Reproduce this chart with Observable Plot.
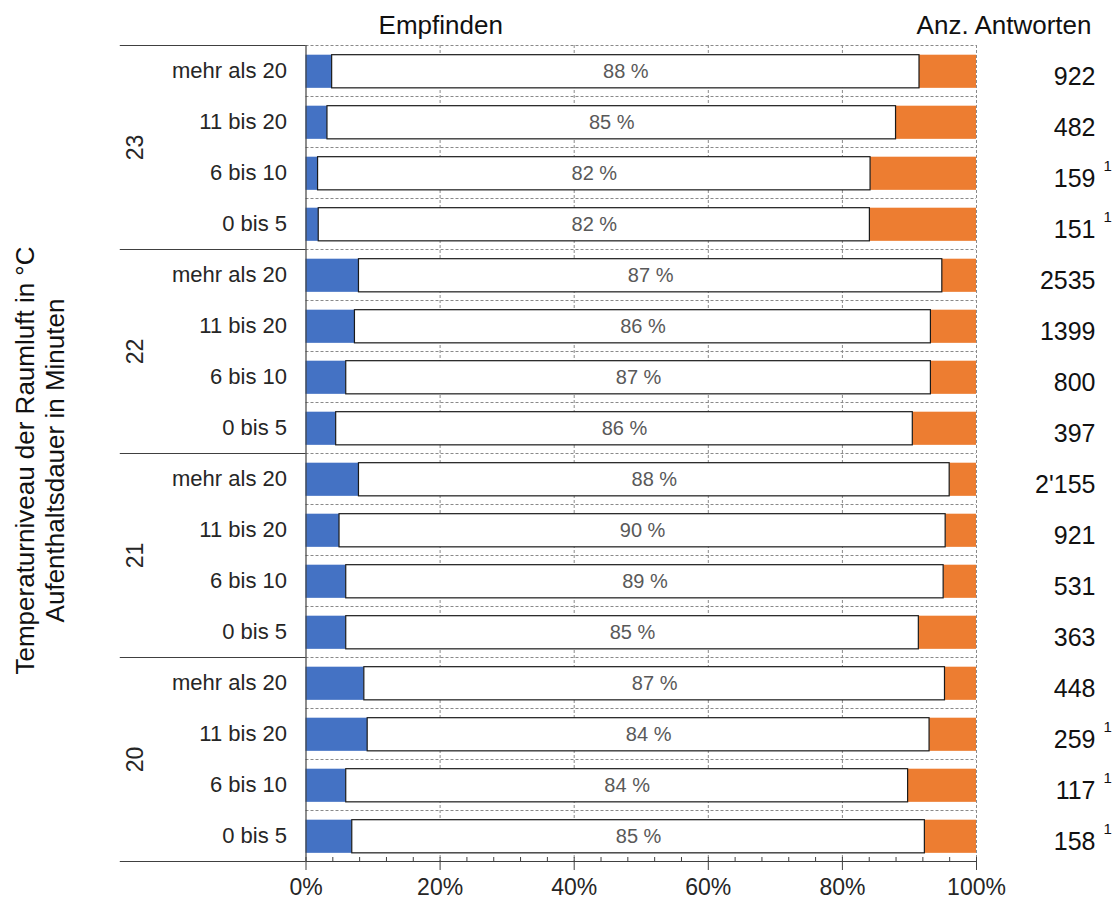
<!DOCTYPE html>
<html>
<head>
<meta charset="utf-8">
<script src="https://cdn.jsdelivr.net/npm/d3@7"></script>
<script src="https://cdn.jsdelivr.net/npm/@observablehq/plot@0.6"></script>
<style>
  html, body { margin: 0; padding: 0; background: #fff; }
  #chart svg { display: block; }
</style>
</head>
<body>
<div id="chart"></div>
<script>
// ---- data ----
const groups = ["23", "22", "21", "20"];
const durations = ["mehr als 20", "11 bis 20", "6 bis 10", "0 bis 5"];
// share of answers (%), per row, top to bottom
const cold    = [3.9, 3.2, 1.8, 1.9, 7.9, 7.3, 6.0, 4.5, 7.9, 5.0, 6.0, 6.0, 8.7, 9.2, 6.0, 6.9];
const neutral = [87.6, 84.8, 82.4, 82.2, 87.0, 85.9, 87.2, 86.0, 88.1, 90.4, 89.1, 85.4, 86.6, 83.8, 83.8, 85.4];
const warm    = [8.5, 12.0, 15.8, 15.9, 5.1, 6.8, 6.8, 9.5, 4.0, 4.6, 4.9, 8.6, 4.7, 7.0, 10.2, 7.7];
const counts  = ["922", "482", "159", "151", "2535", "1399", "800", "397", "2'155", "921", "531", "363", "448", "259", "117", "158"];
const notes   = ["", "", "1", "1", "", "", "", "", "", "", "", "", "", "1", "1", "1"];
const xTicks  = [0, 20, 40, 60, 80, 100];
const yTitle  = "Temperaturniveau der Raumluft in °C\nAufenthaltsdauer in Minuten";

// ---- tables built from the arrays ----
const rows = counts.map((c, i) => ({
  i,
  group: groups[Math.floor(i / 4)],
  duration: durations[i % 4],
  cold: cold[i], neutral: neutral[i], warm: warm[i],
  count: c, note: notes[i]
}));
const segments = rows.flatMap(r => [
  {i: r.i, cat: "cold", x1: 0, x2: r.cold},
  {i: r.i, cat: "neutral", x1: r.cold, x2: r.cold + r.neutral},
  {i: r.i, cat: "warm", x1: r.cold + r.neutral, x2: r.cold + r.neutral + r.warm}
]);
const groupStarts = groups.map((g, k) => ({group: g, y: k * 4 + 2}));
const bandTop = 0.19, bandBottom = 0.84;
const ink = "#262626";
const grid = "#8a8a8a";

const chart = Plot.plot({
  width: 1119,
  height: 899,
  marginLeft: 305.5,
  marginRight: 143,
  marginTop: 45,
  marginBottom: 38,
  style: {fontFamily: "'Liberation Sans', Arial, sans-serif", background: "#fff", color: ink},
  x: {domain: [0, 100]},
  y: {domain: [0, 16], reverse: true, axis: null},
  color: {domain: ["cold", "warm"], range: ["#4472C4", "#ED7D31"]},
  marks: [
    // dashed grid
    Plot.ruleX([20, 40, 60, 80, 100], {y1: 0, y2: 16, stroke: grid, strokeDasharray: "3,2", strokeWidth: 1}),
    Plot.ruleY(d3.range(0, 16), {x1: 0, x2: 100, stroke: grid, strokeDasharray: "3,2", strokeWidth: 1}),
    // bars
    Plot.rect(segments.filter(d => d.cat !== "neutral"), {
      x1: "x1", x2: "x2", y1: d => d.i + bandTop, y2: d => d.i + bandBottom, fill: "cat"
    }),
    Plot.rect(segments.filter(d => d.cat === "neutral"), {
      x1: "x1", x2: "x2", y1: d => d.i + bandTop, y2: d => d.i + bandBottom,
      fill: "#fff", stroke: "#1a1a1a", strokeWidth: 1.2
    }),
    // percent labels in the neutral segment
    Plot.text(rows, {
      x: d => d.cold + d.neutral / 2, y: d => d.i + (bandTop + bandBottom) / 2,
      text: d => Math.round(d.neutral) + " %", fill: "#595959", fontSize: 20
    }),
    // row labels
    Plot.text(rows, {
      x: 0, y: d => d.i + 0.5, dx: -19, text: "duration", textAnchor: "end", fontSize: 22, fill: ink
    }),
    // group labels
    Plot.text(groupStarts, {
      x: 0, y: "y", dx: -170, text: "group", rotate: -90, fontSize: 23, fill: ink
    }),
    // group separators
    Plot.ruleY([0, 4, 8, 12, 16], {x1: -27.7, x2: 0, stroke: "#404040", strokeWidth: 1.2}),
    // axis lines
    Plot.ruleY([16], {x1: 0, x2: 100, stroke: "#404040", strokeWidth: 1.2}),
    Plot.ruleX([0], {y1: 0, y2: 16, stroke: "#404040", strokeWidth: 1.2}),
    // minor ticks
    Plot.ruleX(d3.range(0, 101, 4), {y1: 16 - 4 / 51, y2: 16, stroke: "#404040"}),
    Plot.axisX(xTicks, {
      tickSize: 9, tickPadding: 8, tickFormat: d => d + "%", fontSize: 23,
      stroke: "#404040", fill: ink
    }),
    // counts
    Plot.text(rows, {
      x: 100, y: d => d.i + 0.5, dx: 119, dy: 6, text: "count", textAnchor: "end", fontSize: 25, fill: "#111"
    }),
    Plot.text(rows.filter(d => d.note), {
      x: 100, y: d => d.i + 0.5, dx: 127, dy: -7, text: "note", textAnchor: "start", fontSize: 15, fill: "#111"
    }),
    // headers
    Plot.text(["Empfinden"], {x: 20.1, y: 0, dy: -20, text: d => d, fontSize: 26, fill: "#111"}),
    Plot.text(["Anz. Antworten"], {x: 100, y: 0, dx: 115, dy: -20, text: d => d, textAnchor: "end", fontSize: 26, fill: "#111"}),
    // y title
    Plot.text([yTitle], {
      x: 0, y: 8, dx: -267, dy: 7, text: d => d, rotate: -90, fontSize: 26, lineHeight: 1.15, fill: "#111"
    })
  ]
});
document.getElementById("chart").appendChild(chart);
</script>
</body>
</html>
